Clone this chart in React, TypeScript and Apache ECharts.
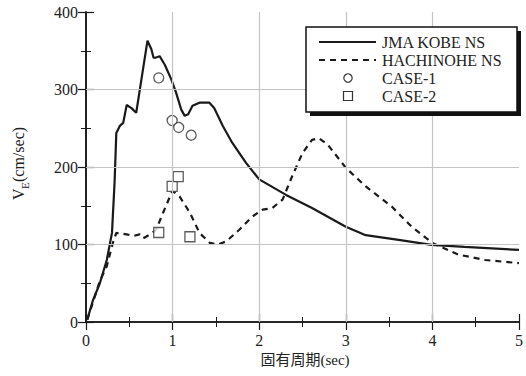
import React, { useEffect, useRef } from "react";
import * as echarts from "echarts";

// JMA KOBE NS (solid)
const kobePeriod = [0.015, 0.08, 0.16, 0.24, 0.30, 0.33, 0.35, 0.39, 0.43, 0.47, 0.525, 0.58, 0.64, 0.71, 0.755, 0.78, 0.80, 0.85, 0.91, 0.985, 1.04, 1.10, 1.14, 1.18, 1.23, 1.31, 1.425, 1.48, 1.58, 1.69, 1.85, 2.0, 2.31, 2.61, 3.0, 3.23, 3.61, 3.99, 4.37, 5.0];
const kobeVE = [3, 28, 50, 80, 115, 180, 244, 253, 257, 280, 276, 270, 313, 363, 352, 341, 341, 343, 332, 313, 296, 274, 266, 268, 279, 283, 283, 276, 253, 231, 205, 184, 164, 147, 123, 112, 106, 99.6, 97, 93];

// HACHINOHE NS (dashed)
const hachiPeriod = [0.015, 0.16, 0.24, 0.31, 0.35, 0.47, 0.55, 0.62, 0.66, 0.74, 0.81, 0.89, 0.97, 1.0, 1.08, 1.20, 1.31, 1.43, 1.52, 1.62, 1.77, 1.92, 2.04, 2.15, 2.27, 2.38, 2.50, 2.61, 2.69, 2.79, 3.0, 3.23, 3.53, 3.76, 4.0, 4.30, 4.61, 5.0];
const hachiVE = [3, 53, 72, 102, 115, 113, 111, 113, 108, 113, 119, 141, 162, 169, 162, 141, 115, 102, 100, 104, 119, 136, 145, 147, 158, 188, 218, 235, 237, 229, 199, 175, 149, 123, 102, 87, 80, 76];

// CASE-1 (circles)
const case1Period = [0.84, 0.995, 1.07, 1.215];
const case1VE = [315, 260, 251, 241];

// CASE-2 (squares)
const case2Period = [0.84, 0.995, 1.065, 1.20];
const case2VE = [115.5, 175, 187.6, 110];

const xTicks = [0, 1, 2, 3, 4, 5];
const yTicks = [0, 100, 200, 300, 400];

const legendNames = ["JMA KOBE NS", "HACHINOHE NS", "CASE-1", "CASE-2"];

const zip = (a: number[], b: number[]) => a.map((v, i) => [v, b[i]]);

const INK = "#1a1a1a";
const SERIF = "'Liberation Serif', 'DejaVu Serif', serif";

export default function App() {
  const ref = useRef<HTMLDivElement>(null);
  useEffect(() => {
    if (!ref.current) return;
    const chart = echarts.init(ref.current, null, { renderer: "svg" });
    const axisCommon = {
      type: "value" as const,
      axisLine: { show: true, lineStyle: { color: INK, width: 1.6 } },
      axisTick: { show: true, inside: true, length: 8, lineStyle: { color: INK, width: 1.2 } },
      minorTick: { show: true, splitNumber: 2, length: 5, lineStyle: { color: INK, width: 1 } },
      splitLine: { show: false },
    };
    chart.setOption({
      animation: false,
      backgroundColor: "#ffffff",
      grid: { left: 86, right: 4, top: 12, bottom: 54, containLabel: false },
      xAxis: [
        {
          ...axisCommon,
          min: xTicks[0],
          max: xTicks[xTicks.length - 1],
          interval: 1,
          position: "bottom",
          axisLabel: { color: "#222", fontFamily: SERIF, fontSize: 16, margin: 10 },
        },
        {
          ...axisCommon,
          min: xTicks[0],
          max: xTicks[xTicks.length - 1],
          interval: 1,
          position: "top",
          axisLabel: { show: false },
        },
      ],
      yAxis: [
        {
          ...axisCommon,
          min: yTicks[0],
          max: yTicks[yTicks.length - 1],
          interval: 100,
          position: "left",
          axisLabel: { color: "#222", fontFamily: SERIF, fontSize: 16, margin: 8 },
        },
        {
          ...axisCommon,
          min: yTicks[0],
          max: yTicks[yTicks.length - 1],
          interval: 100,
          position: "right",
          axisLabel: { show: false },
        },
      ],
      series: [
        {
          name: "grid",
          type: "line",
          data: [],
          z: 1,
          silent: true,
          markLine: {
            silent: true,
            symbol: "none",
            label: { show: false },
            lineStyle: { color: "#c4c4c4", width: 1.2, type: "solid" },
            data: [
              ...xTicks.slice(1, -1).map((v) => ({ xAxis: v })),
              ...yTicks.slice(1, -1).map((v) => ({ yAxis: v })),
            ],
          },
        },
        {
          name: legendNames[0],
          type: "line",
          data: zip(kobePeriod, kobeVE),
          symbol: "none",
          lineStyle: { color: INK, width: 2.2 },
          z: 3,
        },
        {
          name: legendNames[1],
          type: "line",
          data: zip(hachiPeriod, hachiVE),
          symbol: "none",
          lineStyle: { color: INK, width: 2.2, type: [6, 5] },
          z: 3,
        },
        {
          name: legendNames[2],
          type: "scatter",
          data: zip(case1Period, case1VE),
          symbol: "circle",
          symbolSize: 10,
          itemStyle: { color: "#ffffff", borderColor: "#333", borderWidth: 1.3 },
          z: 4,
        },
        {
          name: legendNames[3],
          type: "scatter",
          data: zip(case2Period, case2VE),
          symbol: "rect",
          symbolSize: 10,
          itemStyle: { color: "#ffffff", borderColor: "#333", borderWidth: 1.3 },
          z: 4,
        },
      ],
      graphic: [
        {
          type: "text",
          x: 305,
          y: 360,
          z: 100,
          style: {
            text: "固有周期(sec)",
            fill: "#222",
            font: "15px 'Liberation Serif', 'Noto Sans CJK JP', serif",
            align: "center",
            verticalAlign: "middle",
          },
        },
        {
          type: "group",
          x: 18,
          y: 163,
          rotation: Math.PI / 2,
          z: 100,
          children: [
            {
              type: "text",
              x: -37,
              y: 0,
              style: { text: "V", fill: "#222", font: `16px ${SERIF}`, align: "left", verticalAlign: "middle" },
            },
            {
              type: "text",
              x: -26,
              y: 7,
              style: { text: "E", fill: "#222", font: `11px ${SERIF}`, align: "left", verticalAlign: "middle" },
            },
            {
              type: "text",
              x: -19,
              y: 0,
              style: { text: "(cm/sec)", fill: "#222", font: `16px ${SERIF}`, align: "left", verticalAlign: "middle" },
            },
          ],
        },
        // legend box with shadow
        {
          type: "rect",
          z: 100,
          shape: { x: 310, y: 31, width: 211, height: 85 },
          style: { fill: "#111" },
        },
        {
          type: "rect",
          z: 101,
          shape: { x: 306, y: 27, width: 211, height: 85 },
          style: { fill: "#ffffff", stroke: "#111", lineWidth: 1.5 },
        },
        {
          type: "line",
          z: 102,
          shape: { x1: 319, y1: 42, x2: 376, y2: 42 },
          style: { stroke: INK, lineWidth: 2 },
        },
        {
          type: "line",
          z: 102,
          shape: { x1: 319, y1: 60, x2: 376, y2: 60 },
          style: { stroke: INK, lineWidth: 2, lineDash: [6, 5] },
        },
        {
          type: "circle",
          z: 102,
          shape: { cx: 348, cy: 78, r: 4.2 },
          style: { fill: "#fff", stroke: "#333", lineWidth: 1.2 },
        },
        {
          type: "rect",
          z: 102,
          shape: { x: 343.5, y: 91.5, width: 9, height: 9 },
          style: { fill: "#fff", stroke: "#333", lineWidth: 1.2 },
        },
        ...legendNames.map((name, i) => ({
          type: "text",
          z: 102,
          x: 382,
          y: 42 + i * 18,
          style: { text: name, fill: "#222", font: `16px ${SERIF}`, align: "left", verticalAlign: "middle" },
        })),
      ],
    });
    return () => chart.dispose();
  }, []);
  return (
    <div
      ref={ref}
      style={{ position: "fixed", left: 0, top: 0, width: 526, height: 376, background: "#fff" }}
    />
  );
}
